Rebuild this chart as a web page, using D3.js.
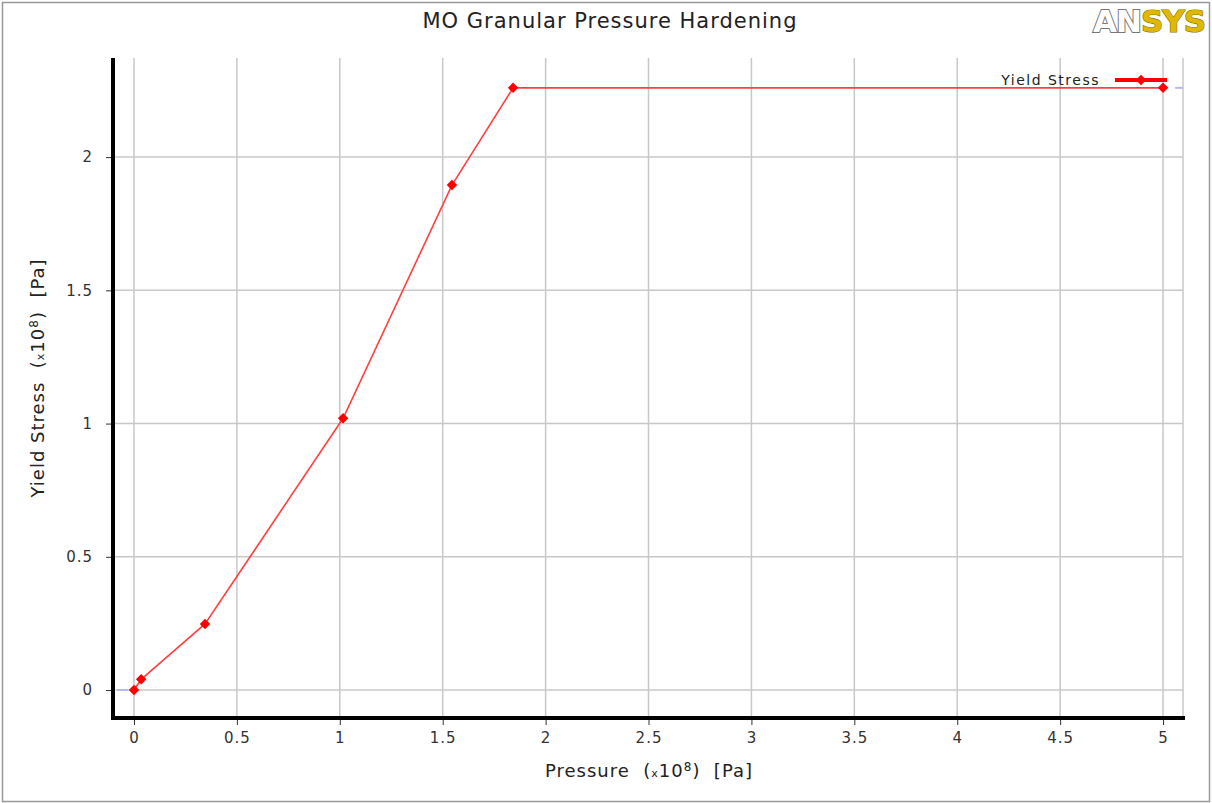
<!DOCTYPE html>
<html>
<head>
<meta charset="utf-8">
<script src="https://cdn.jsdelivr.net/npm/d3@7"></script>
<style>
  body { margin: 0; background: #fff; }
  text { font-family: "DejaVu Sans", sans-serif; }
</style>
</head>
<body>
<div id="chart"></div>
<script>
// data (pressure x1e8 Pa, yield stress x1e8 Pa)
var pressure = [0, 0.035, 0.345, 1.016, 1.545, 1.842, 5];
var yieldStress = [0, 0.04, 0.248, 1.02, 1.895, 2.26, 2.26];
var xTicks = [0, 0.5, 1, 1.5, 2, 2.5, 3, 3.5, 4, 4.5, 5];
var yTicks = [0, 0.5, 1, 1.5, 2];

var W = 1212, H = 803;
var padL = 113, padR = 1183, padT = 58, padB = 718;

var svg = d3.select("#chart").append("svg")
    .attr("width", W).attr("height", H);

// outer frame
svg.append("rect")
    .attr("x", 2.5).attr("y", 2.5)
    .attr("width", W - 5).attr("height", H - 4)
    .attr("fill", "none").attr("stroke", "#999").attr("stroke-width", 1.5);

var x = d3.scaleLinear().domain([-0.102, 5.097]).range([padL, padR]);
var y = d3.scaleLinear().domain([-0.105, 2.372]).range([padB, padT]);

var data = pressure.map(function(p, i) { return { p: p, s: yieldStress[i] }; });

// grid
svg.append("g").selectAll("line").data(xTicks).enter().append("line")
    .attr("x1", function(d) { return x(d); }).attr("x2", function(d) { return x(d); })
    .attr("y1", padT).attr("y2", padB)
    .attr("stroke", "#c8c8c8").attr("stroke-width", 1.5);
svg.append("g").selectAll("line").data(yTicks).enter().append("line")
    .attr("x1", padL).attr("x2", padR)
    .attr("y1", function(d) { return y(d); }).attr("y2", function(d) { return y(d); })
    .attr("stroke", "#c8c8c8").attr("stroke-width", 1.5);
// right edge of plot
svg.append("line")
    .attr("x1", padR).attr("x2", padR).attr("y1", padT).attr("y2", padB)
    .attr("stroke", "#c8c8c8").attr("stroke-width", 1.5);

// extrapolation hints
svg.append("line")
    .attr("x1", padL + 4).attr("x2", x(pressure[0]) - 6)
    .attr("y1", y(yieldStress[0])).attr("y2", y(yieldStress[0]))
    .attr("stroke", "#b8b8f0").attr("stroke-width", 2);
svg.append("line")
    .attr("x1", x(5) + 12).attr("x2", padR)
    .attr("y1", y(yieldStress[6])).attr("y2", y(yieldStress[6]))
    .attr("stroke", "#b8b8f0").attr("stroke-width", 2);

// axes
var xAxis = d3.axisBottom(x).tickValues(xTicks).tickSize(5).tickPadding(7)
    .tickFormat(function(d) { return String(d); });
var gx = svg.append("g").attr("transform", "translate(0," + (padB + 2) + ")").call(xAxis);
gx.select(".domain").remove();
var yAxis = d3.axisLeft(y).tickValues(yTicks).tickSize(5).tickPadding(13)
    .tickFormat(function(d) { return String(d); });
var gy = svg.append("g").attr("transform", "translate(" + (padL - 2) + ",0)").call(yAxis);
gy.select(".domain").remove();
svg.selectAll(".tick text").attr("font-size", 15).attr("fill", "#333")
    .attr("letter-spacing", 1)
    .attr("font-family", "DejaVu Sans, sans-serif");
svg.selectAll(".tick line").attr("stroke", "#333");

svg.append("line").attr("x1", padL).attr("x2", padL).attr("y1", padT).attr("y2", padB + 2)
    .attr("stroke", "#000").attr("stroke-width", 4);
svg.append("line").attr("x1", padL - 2).attr("x2", padR + 2).attr("y1", padB).attr("y2", padB)
    .attr("stroke", "#000").attr("stroke-width", 4);

// series
var line = d3.line().x(function(d) { return x(d.p); }).y(function(d) { return y(d.s); });
svg.append("path").datum(data).attr("d", line)
    .attr("fill", "none").attr("stroke", "#ff4040").attr("stroke-width", 1.6);

var diamond = d3.symbol().type(d3.symbolDiamond2).size(70);
svg.append("g").selectAll("path").data(data).enter().append("path")
    .attr("d", diamond)
    .attr("transform", function(d) { return "translate(" + x(d.p) + "," + y(d.s) + ")"; })
    .attr("fill", "#ff0000");

// legend
svg.append("text").attr("x", 1100).attr("y", 85).attr("text-anchor", "end")
    .attr("font-size", 14).attr("letter-spacing", 1.5).attr("fill", "#222").text("Yield Stress");
svg.append("line").attr("x1", 1115).attr("x2", 1167).attr("y1", 80).attr("y2", 80)
    .attr("stroke", "#ff0000").attr("stroke-width", 4);
svg.append("path").attr("d", diamond).attr("transform", "translate(1141,80)").attr("fill", "#ff0000");

// title
svg.append("text").attr("x", 610).attr("y", 28).attr("text-anchor", "middle")
    .attr("font-size", 21).attr("letter-spacing", 1).attr("fill", "#222")
    .text("MO Granular Pressure Hardening");

// axis titles
var nb = "\u00a0";
var xt = svg.append("text").attr("x", 649).attr("y", 777).attr("text-anchor", "middle")
    .attr("font-size", 18).attr("letter-spacing", 1).attr("fill", "#222");
xt.append("tspan").text("Pressure" + nb + nb + "(");
xt.append("tspan").attr("font-size", 11).text("x");
xt.append("tspan").text("10");
xt.append("tspan").attr("font-size", 12).attr("dy", -6).text("8");
xt.append("tspan").attr("dy", 6).text(")" + nb + nb + "[Pa]");

var yt = svg.append("text").attr("transform", "translate(44,378) rotate(-90)")
    .attr("text-anchor", "middle").attr("font-size", 18).attr("letter-spacing", 1).attr("fill", "#222");
yt.append("tspan").text("Yield Stress" + nb + nb + "(");
yt.append("tspan").attr("font-size", 11).text("x");
yt.append("tspan").text("10");
yt.append("tspan").attr("font-size", 12).attr("dy", -6).text("8");
yt.append("tspan").attr("dy", 6).text(")" + nb + nb + "[Pa]");

// logo
var logo = svg.append("text").attr("x", 1093).attr("y", 32)
    .attr("font-family", "Liberation Serif, serif").attr("font-weight", "bold")
    .attr("font-size", 31).attr("letter-spacing", -1);
logo.append("tspan").attr("fill", "#fff").attr("stroke", "#777").attr("stroke-width", 2)
    .attr("paint-order", "stroke").text("AN");
logo.append("tspan").attr("fill", "#e0b800").attr("stroke", "#8a7000").attr("stroke-width", 1.2)
    .attr("paint-order", "stroke").text("SYS");
</script>
</body>
</html>
